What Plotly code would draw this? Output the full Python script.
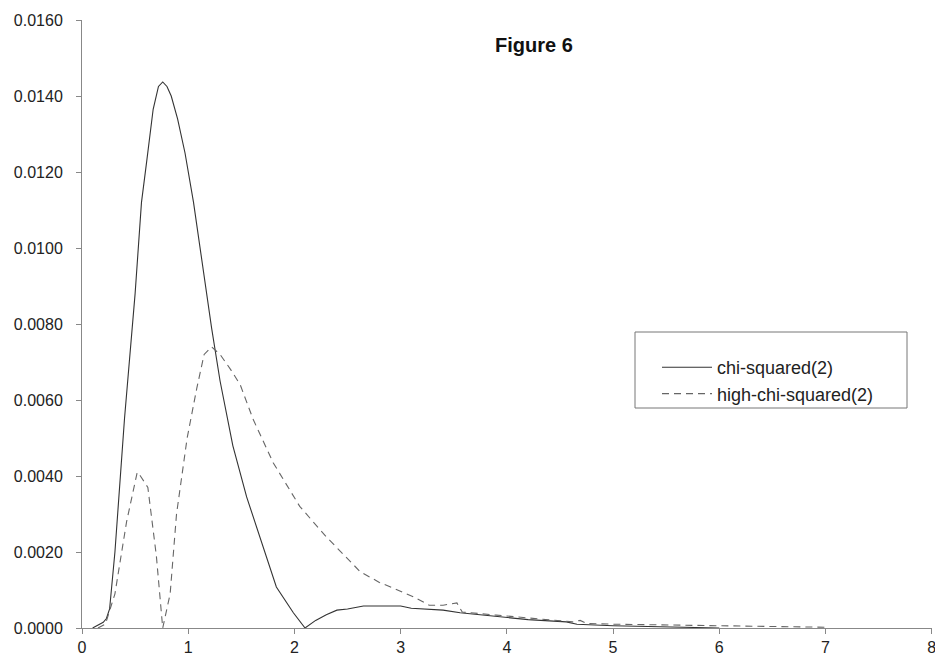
import plotly.graph_objects as go

# chi-squared(2)
chi_x = [0.10, 0.20, 0.23, 0.26, 0.31, 0.40, 0.50, 0.56, 0.61, 0.67, 0.72, 0.76, 0.80,
         0.84, 0.90, 0.97, 1.05, 1.14, 1.22, 1.30, 1.42, 1.55, 1.68, 1.83, 1.99, 2.10,
         2.20, 2.30, 2.40, 2.50, 2.65, 3.00, 3.10, 3.40, 3.56, 3.90, 4.20, 4.56, 4.66,
         5.00, 5.50, 6.00]
chi_y = [0.0, 0.00015, 0.00025, 0.0005, 0.0020, 0.0055, 0.0088, 0.0112, 0.0123, 0.01365,
         0.01425, 0.01437, 0.01425, 0.0140, 0.0134, 0.0125, 0.0112, 0.0094, 0.0079, 0.0065,
         0.0048, 0.00345, 0.00232, 0.00108, 0.0004, 0.0, 0.0002, 0.00035, 0.00047, 0.0005,
         0.00058, 0.00058, 0.00052, 0.00047, 0.0004, 0.0003, 0.00022, 0.00016, 0.0001,
         0.00006, 0.00003, 0.0]

# high-chi-squared(2)
high_x = [0.15, 0.22, 0.31, 0.42, 0.52, 0.55, 0.62, 0.70, 0.76, 0.83, 0.89, 0.99, 1.08,
          1.15, 1.22, 1.30, 1.40, 1.49, 1.61, 1.80, 2.05, 2.30, 2.62, 2.80, 2.93, 3.12,
          3.27, 3.40, 3.53, 3.58, 3.90, 4.38, 4.62, 4.69, 4.75, 5.00, 5.50, 6.00, 6.50, 7.00]
high_y = [0.0, 0.0001, 0.0009, 0.0028, 0.0041, 0.0040, 0.0037, 0.0019, 0.0, 0.0009, 0.0030,
          0.0050, 0.0063, 0.0072, 0.0074, 0.0072, 0.0068, 0.0064, 0.0055, 0.00435, 0.0032,
          0.0024, 0.00148, 0.0012, 0.00105, 0.00082, 0.0006, 0.0006, 0.00066, 0.00042,
          0.00034, 0.00021, 0.00016, 0.0002, 0.00012, 0.0001, 0.00008, 0.00005, 0.00004,
          0.00002]

x_ticks = [0, 1, 2, 3, 4, 5, 6, 7, 8]
y_ticks = [0.0, 0.002, 0.004, 0.006, 0.008, 0.010, 0.012, 0.014, 0.016]

# plot area spans px 82..932 x 20..628 (page margin removed below)
L, R, T, B = 82, 3, 20, 34
PW, PH = 850, 608


def px_x(p):
    return (p - 82) / PW


def px_y(p):
    return (628 - p) / PH


fig = go.Figure()
fig.add_trace(go.Scatter(x=chi_x, y=chi_y, mode="lines", name="chi-squared(2)",
                         legendgroup="a",
                         line=dict(color="#333333", width=1.1)))
fig.add_trace(go.Scatter(x=high_x, y=high_y, mode="lines", name="high-chi-squared(2)",
                         legendgroup="b",
                         line=dict(color="#666666", width=1.1, dash="7px,5px")))

fig.update_layout(
    width=935, height=662,
    margin=dict(l=L, r=R, t=T, b=B, autoexpand=False),
    paper_bgcolor="white", plot_bgcolor="white",
    font=dict(family="Liberation Sans, Arial, sans-serif", size=16, color="#222222"),
    showlegend=True,
    legend=dict(x=px_x(657), y=px_y(349), xanchor="left", yanchor="top",
                bgcolor="rgba(0,0,0,0)", borderwidth=0,
                font=dict(size=18, color="#222222"),
                itemwidth=50, traceorder="grouped", tracegroupgap=0),
    annotations=[dict(text="<b>Figure 6</b>", xref="paper", yref="paper",
                      x=px_x(534), y=px_y(45), xanchor="center", yanchor="middle",
                      showarrow=False, font=dict(size=20, color="#111111"))],
)

# legend box
fig.add_shape(type="rect", xref="paper", yref="paper",
              x0=px_x(635), x1=px_x(907), y0=px_y(408), y1=px_y(332),
              line=dict(color="#777777", width=1), fillcolor="rgba(0,0,0,0)")

fig.update_xaxes(range=[0, 8.003], tickvals=x_ticks, ticktext=[str(v) for v in x_ticks],
                 showgrid=False, zeroline=False, showline=True, linecolor="#888888",
                 linewidth=1, ticks="outside", ticklen=5, tickcolor="#888888",
                 ticklabeloverflow="allow", tickfont=dict(size=16))
fig.update_yaxes(range=[0, 0.016], tickvals=y_ticks, tickformat=".4f",
                 showgrid=False, zeroline=False, showline=True, linecolor="#888888",
                 linewidth=1, ticks="outside", ticklen=5, tickcolor="#888888",
                 ticklabelstandoff=10, tickfont=dict(size=16))

fig.write_html(
    "out.html",
    config={"displayModeBar": False},
    post_script="document.body.style.margin='0';document.body.style.overflow='hidden';",
)
